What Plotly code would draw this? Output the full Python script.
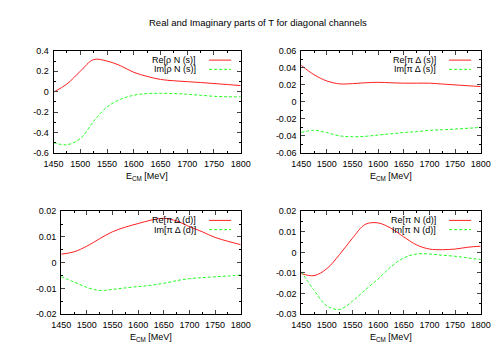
import plotly.graph_objects as go

# energias (MeV)
e_cm = [1450, 1475, 1500, 1525, 1550, 1575, 1600, 1625, 1650, 1675, 1700, 1725, 1750, 1775, 1800]

re_rho_n_s = [-0.005, 0.075, 0.20, 0.315, 0.30, 0.255, 0.19, 0.15, 0.12, 0.107, 0.098, 0.09, 0.08, 0.07, 0.06]
im_rho_n_s = [-0.50, -0.52, -0.46, -0.29, -0.15, -0.075, -0.035, -0.018, -0.016, -0.018, -0.025, -0.035, -0.045, -0.05, -0.05]

re_pi_delta_s = [0.043, 0.032, 0.0246, 0.0212, 0.0215, 0.0225, 0.023, 0.0225, 0.022, 0.022, 0.022, 0.021, 0.020, 0.019, 0.018]
im_pi_delta_s = [-0.036, -0.0335, -0.0362, -0.040, -0.041, -0.0405, -0.039, -0.0375, -0.036, -0.035, -0.0335, -0.0328, -0.032, -0.031, -0.030]

re_pi_delta_d = [0.0033, 0.0042, 0.0064, 0.0093, 0.012, 0.0138, 0.0152, 0.0165, 0.0172, 0.0162, 0.014, 0.012, 0.0098, 0.0083, 0.007]
im_pi_delta_d = [-0.0055, -0.0075, -0.0096, -0.0108, -0.0104, -0.0098, -0.0093, -0.0088, -0.008, -0.007, -0.0062, -0.0058, -0.0055, -0.0052, -0.0048]

re_pi_n_d = [-0.0103, -0.0113, -0.0079, -0.001, 0.0069, 0.0136, 0.0143, 0.0117, 0.0075, 0.0036, 0.0016, 0.0013, 0.0016, 0.0025, 0.003]
im_pi_n_d = [-0.0093, -0.0184, -0.026, -0.0277, -0.0237, -0.0182, -0.0129, -0.007, -0.0027, -0.0008, -0.0008, -0.0014, -0.0019, -0.0027, -0.0035]

x_ticks = [1450, 1500, 1550, 1600, 1650, 1700, 1750, 1800]

paineis = [
    dict(re=re_rho_n_s, im=im_rho_n_s, nome="ρ N (s)",
         yticks=[-0.6, -0.4, -0.2, 0, 0.2, 0.4], ytext=["-0.6", "-0.4", "-0.2", "0", "0.2", "0.4"],
         dom_x=[37, 232], dom_y=[39, 144]),
    dict(re=re_pi_delta_s, im=im_pi_delta_s, nome="π Δ (s)",
         yticks=[-0.06, -0.04, -0.02, 0, 0.02, 0.04, 0.06],
         ytext=["-0.06", "-0.04", "-0.02", "0", "0.02", "0.04", "0.06"],
         dom_x=[295, 482], dom_y=[39, 144]),
    dict(re=re_pi_delta_d, im=im_pi_delta_d, nome="π Δ (d)",
         yticks=[-0.02, -0.01, 0, 0.01, 0.02], ytext=["-0.02", "-0.01", "0", "0.01", "0.02"],
         dom_x=[45, 232], dom_y=[204, 310]),
    dict(re=re_pi_n_d, im=im_pi_n_d, nome="π N (d)",
         yticks=[-0.03, -0.02, -0.01, 0, 0.01, 0.02], ytext=["-0.03", "-0.02", "-0.01", "0", "0.01", "0.02"],
         dom_x=[295, 482], dom_y=[204, 310]),
]

W, H = 500, 350
fonte = "Liberation Sans, Arial, sans-serif"
vermelho = "#ff2020"
verde = "#20ff20"
tam = 9

fig = go.Figure()
layout = {}
anotacoes = []
formas = []

for i, p in enumerate(paineis):
    n = "" if i == 0 else str(i + 1)
    xa, ya = "x" + n, "y" + n
    fig.add_trace(go.Scatter(x=e_cm, y=p["re"], xaxis=xa, yaxis=ya, mode="lines",
                             line=dict(color=vermelho, width=1, shape="spline"), showlegend=False))
    fig.add_trace(go.Scatter(x=e_cm, y=p["im"], xaxis=xa, yaxis=ya, mode="lines",
                             line=dict(color=verde, width=1, dash="3px,2px", shape="spline"), showlegend=False))

    x0, x1 = p["dom_x"][0] / W, p["dom_x"][1] / W
    y0, y1 = 1 - p["dom_y"][1] / H, 1 - p["dom_y"][0] / H
    passo = p["yticks"][1] - p["yticks"][0]
    layout["xaxis" + n] = dict(
        domain=[x0, x1], anchor=ya, range=[1450, 1800],
        tickvals=x_ticks, ticks="inside", ticklen=4, mirror="allticks",
        showline=True, linecolor="black", linewidth=1, showgrid=False, zeroline=False,
        minor=dict(ticks="inside", ticklen=2, dtick=25, tick0=1450, tickcolor="black"),
        tickfont=dict(size=tam, color="black"), ticklabelstandoff=2,
    )
    layout["yaxis" + n] = dict(
        domain=[y0, y1], anchor=xa, range=[p["yticks"][0], p["yticks"][-1]],
        tickvals=p["yticks"], ticktext=p["ytext"], ticks="inside", ticklen=4, mirror="allticks",
        showline=True, linecolor="black", linewidth=1, showgrid=False, zeroline=False,
        minor=dict(ticks="inside", ticklen=2, dtick=passo / 2, tick0=p["yticks"][0], tickcolor="black"),
        tickfont=dict(size=tam, color="black"), ticklabelstandoff=2,
    )

    # título do eixo x
    anotacoes.append(dict(text="E<sub>CM</sub> [MeV]", xref="paper", yref="paper",
                          x=(x0 + x1) / 2, y=1 - (p["dom_y"][1] + 24) / H,
                          showarrow=False, font=dict(size=tam), xanchor="center", yanchor="middle"))

    # legenda desenhada à mão (texto à esquerda da amostra, como no gnuplot)
    direita = p["dom_x"][1]
    for k, (rotulo, cor, tracejado) in enumerate([("Re[" + p["nome"] + "]", vermelho, "solid"),
                                                   ("Im[" + p["nome"] + "]", verde, "dash")]):
        yy = p["dom_y"][0] + 9.5 + 9.5 * k
        anotacoes.append(dict(text=rotulo, xref="paper", yref="paper",
                              x=(direita - 45) / W, y=1 - yy / H, showarrow=False,
                              font=dict(size=tam), xanchor="right", yanchor="middle"))
        formas.append(dict(type="line", xref="paper", yref="paper",
                           x0=(direita - 33) / W, x1=(direita - 10) / W, y0=1 - yy / H, y1=1 - yy / H,
                           line=dict(color=cor, width=1, dash="3px,2px" if tracejado == "dash" else "solid")))

anotacoes.append(dict(text="Real and Imaginary parts of T for diagonal channels", xref="paper", yref="paper",
                      x=0.5, y=1 - 10 / H, showarrow=False, font=dict(size=9.5),
                      xanchor="center", yanchor="middle"))

fig.update_layout(
    **layout,
    annotations=anotacoes,
    shapes=formas,
    width=W, height=H,
    margin=dict(l=0, r=0, t=0, b=0),
    font=dict(family=fonte, color="black"),
    plot_bgcolor="white",
    paper_bgcolor="white",
    showlegend=False,
)

fig.write_html("out.html")
